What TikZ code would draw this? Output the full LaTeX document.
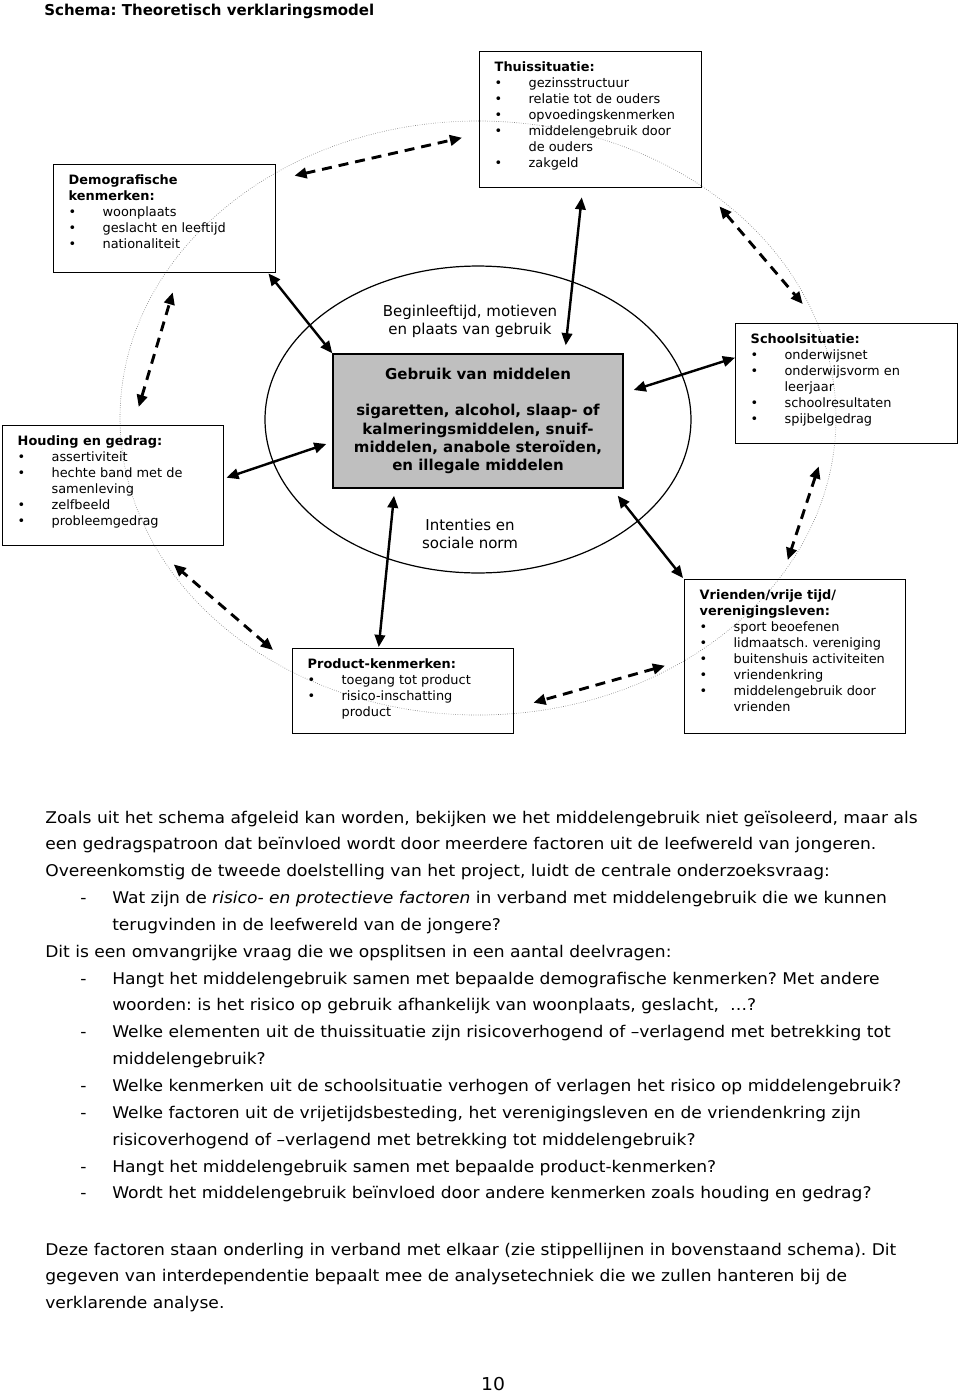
\documentclass[tikz,border=0pt]{standalone}
\usepackage{fontspec}
\setmainfont{DejaVu Sans}
\newfontfamily\tekstfont[FakeStretch=1.06]{DejaVu Sans}
\usetikzlibrary{shapes.geometric,arrows.meta,calc}
\frenchspacing
\newlength\pxl
\setlength\pxl{0.62pt}
\newcommand\bol[1]{\mbox{\makebox[21pt][l]{\textbullet}#1}}
\newcommand\verv[1]{\mbox{\hspace*{21pt}#1}}
\newcommand\inh[3]{\parbox[t][#2\pxl][t]{#1\pxl}{\raggedright #3}}
\newcommand\streep{\hspace*{21.7pt}\makebox[19.8pt][l]{-}}
\newcommand\insp{\hspace*{41.5pt}}
\tikzset{
  kader/.style={draw,line width=0.9pt,anchor=north west,inner xsep=9.3pt,inner ysep=6pt,
    font=\fontsize{8}{9.92}\selectfont},
  pijl/.style={line width=1.5pt,>={Triangle[length=7.5pt,width=6.5pt]},<->},
  stippel/.style={pijl,line width=1.8pt,dash pattern=on 6.2pt off 4.3pt},
}
\begin{document}
\begin{tikzpicture}[x=0.62pt,y=-0.62pt]
  \useasboundingbox (0,0) rectangle (960,1393);
  \node[anchor=base west,inner sep=0,font=\bfseries\fontsize{9.3}{11}\selectfont] (titel) at (44,15)
    {Schema: Theoretisch verklaringsmodel};
  % grote stippelcirkel
  \node[ellipse,draw=gray,densely dotted,line width=0.4pt,minimum width=443.9pt,minimum height=368.3pt] (ring) at (478,418) {};
  \node[ellipse,draw,line width=0.75pt,minimum width=264.1pt,minimum height=190.3pt] (ell) at (478,419.5) {};
  \node[draw,fill=gray!50,line width=0.9pt,minimum width=179.8pt,minimum height=83.1pt,align=center,
    font=\bfseries\fontsize{9.3}{11.35}\selectfont] (use) at (478,421)
    {Gebruik van middelen\\[11.35pt] sigaretten, alcohol, slaap- of\\ kalmeringsmiddelen, snuif-\\
     middelen, anabole steroïden,\\ en illegale middelen};
  \node[align=center,font=\fontsize{9.3}{11.2}\selectfont] (motief) at (470,321)
    {Beginleeftijd, motieven\\ en plaats van gebruik};
  \node[align=center,font=\fontsize{9.3}{11.2}\selectfont] (norm) at (470,534)
    {Intenties en\\ sociale norm};
  % kaders
  \node[kader] (demo) at (53,164) {\inh{192}{88.6}{\textbf{Demografische}\\ \textbf{kenmerken:}\\
    \bol{woonplaats}\\ \bol{geslacht en leeftijd}\\ \bol{nationaliteit}}};
  \node[kader] (thuis) at (479,51) {\inh{192}{116.6}{\textbf{Thuissituatie:}\\ \bol{gezinsstructuur}\\
    \bol{relatie tot de ouders}\\ \bol{opvoedingskenmerken}\\ \bol{middelengebruik door}\\
    \verv{de ouders}\\ \bol{zakgeld}}};
  \node[kader] (houd) at (2,425) {\inh{191}{100.6}{\textbf{Houding en gedrag:}\\ \bol{assertiviteit}\\
    \bol{hechte band met de}\\ \verv{samenleving}\\ \bol{zelfbeeld}\\ \bol{probleemgedrag}}};
  \node[kader] (school) at (735,323) {\inh{192}{100.6}{\textbf{Schoolsituatie:}\\ \bol{onderwijsnet}\\
    \bol{onderwijsvorm en}\\ \verv{leerjaar}\\ \bol{schoolresultaten}\\ \bol{spijbelgedrag}}};
  \node[kader] (prod) at (292,648) {\inh{191}{65.6}{\textbf{Product-kenmerken:}\\
    \bol{toegang tot product}\\ \bol{risico-inschatting}\\ \verv{product}}};
  \node[kader] (vr) at (684,579) {\inh{191}{134.6}{\textbf{Vrienden/vrije tijd/}\\ \textbf{verenigingsleven:}\\
    \bol{sport beoefenen}\\ \bol{lidmaatsch. vereniging}\\ \bol{buitenshuis activiteiten}\\
    \bol{vriendenkring}\\ \bol{middelengebruik door}\\ \verv{vrienden}}};
  % directe verbanden
  \draw[pijl] ($(demo.south east)+(-8,0)$) -- (use.north west);
  \draw[pijl] ($(thuis.south)+(-9,9)$) -- ($(use.north east)+(-58,-8)$);
  \draw[pijl] ($(houd.east)+(2,-8)$) -- ($(use.west)+(-6,23)$);
  \draw[pijl] ($(use.east)+(10,-31)$) -- ($(school.west)+(0,-26)$);
  \draw[pijl] ($(use.south)+(-84,7)$) -- ($(prod.north)+(-24.5,-1)$);
  \draw[pijl] ($(use.south east)+(-6,7)$) -- ($(vr.north west)+(-1,-1)$);
  % onderlinge verbanden
  \draw[stippel] ($(demo.east)+(18,-43)$) -- ($(thuis.west)+(-17,18)$);
  \draw[stippel] ($(thuis.south east)+(17,18)$) -- ($(school.north)+(-44,-19)$);
  \draw[stippel] ($(school.south)+(-28,22)$) -- ($(vr.north)+(-7.5,-19)$);
  \draw[stippel] ($(vr.west)+(-19,9)$) -- ($(prod.east)+(19,11.5)$);
  \draw[stippel] ($(prod.north west)+(-19,2)$) -- ($(houd.south)+(60.5,18)$);
  \draw[stippel] ($(houd.north)+(25.5,-18)$) -- ($(demo.south)+(8,19)$);
  % tekst
  \node[anchor=base west,inner sep=0,font=\tekstfont\fontsize{10}{16.65}\selectfont] (tekst) at (45,823) {\parbox[t]{580pt}{%
    Zoals uit het schema afgeleid kan worden, bekijken we het middelengebruik niet geïsoleerd, maar als\\
    een gedragspatroon dat beïnvloed wordt door meerdere factoren uit de leefwereld van jongeren.\\
    Overeenkomstig de tweede doelstelling van het project, luidt de centrale onderzoeksvraag:\\
    \streep Wat zijn de \textit{risico- en protectieve factoren} in verband met middelengebruik die we kunnen\\
    \insp terugvinden in de leefwereld van de jongere?\\
    Dit is een omvangrijke vraag die we opsplitsen in een aantal deelvragen:\\
    \streep Hangt het middelengebruik samen met bepaalde demografische kenmerken? Met andere\\
    \insp woorden: is het risico op gebruik afhankelijk van woonplaats, geslacht, \ …?\\
    \streep Welke elementen uit de thuissituatie zijn risicoverhogend of –verlagend met betrekking tot\\
    \insp middelengebruik?\\
    \streep Welke kenmerken uit de schoolsituatie verhogen of verlagen het risico op middelengebruik?\\
    \streep Welke factoren uit de vrijetijdsbesteding, het verenigingsleven en de vriendenkring zijn\\
    \insp risicoverhogend of –verlagend met betrekking tot middelengebruik?\\
    \streep Hangt het middelengebruik samen met bepaalde product-kenmerken?\\
    \streep Wordt het middelengebruik beïnvloed door andere kenmerken zoals houding en gedrag?}};
  \node[anchor=base west,inner sep=0,font=\tekstfont\fontsize{10}{16.45}\selectfont] (slot) at (45,1255) {\parbox[t]{580pt}{%
    Deze factoren staan onderling in verband met elkaar (zie stippellijnen in bovenstaand schema). Dit\\
    gegeven van interdependentie bepaalt mee de analysetechniek die we zullen hanteren bij de\\
    verklarende analyse.}};
  \node[anchor=base,inner sep=0,font=\tekstfont\fontsize{11}{13}\selectfont] (pag) at (493,1390) {10};
\end{tikzpicture}
\end{document}
